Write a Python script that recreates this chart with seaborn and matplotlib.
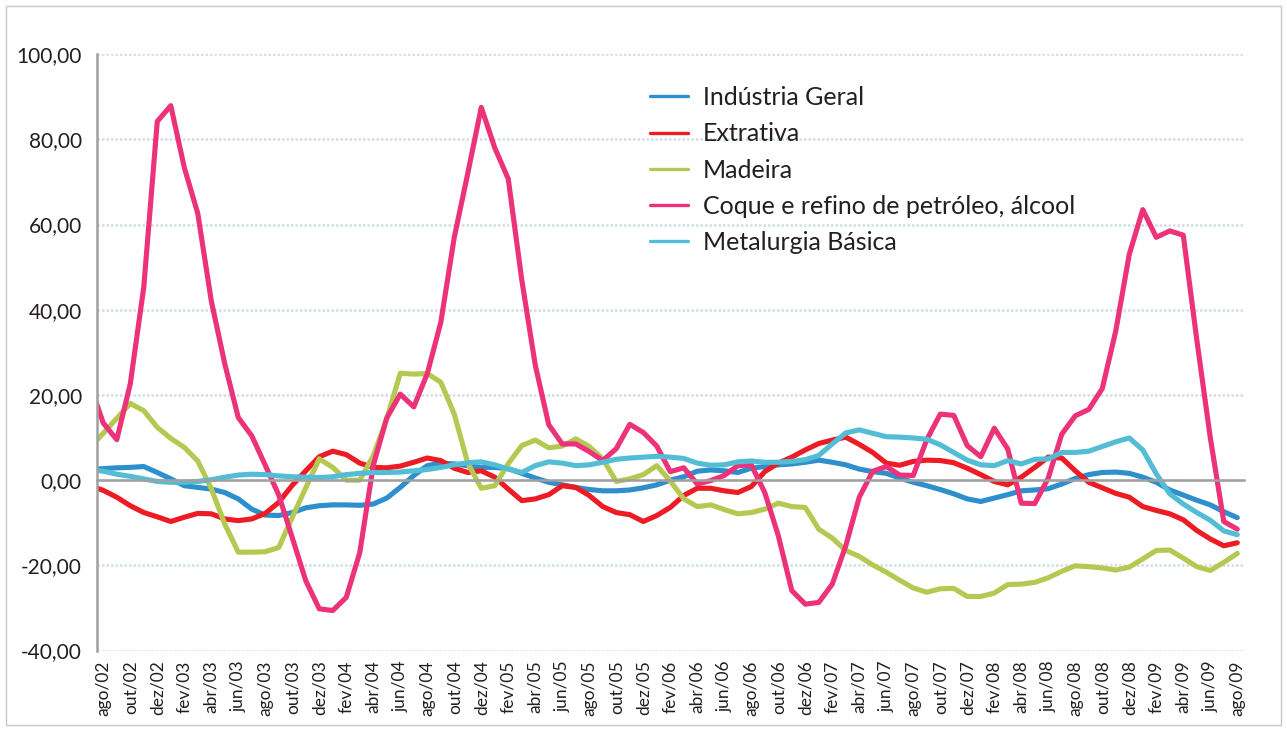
import matplotlib
matplotlib.use("Agg")
import matplotlib.pyplot as plt
from matplotlib.lines import Line2D
from matplotlib.patches import Rectangle
import numpy as np
import pandas as pd
import seaborn as sns

sns.set_style("white")
plt.rcParams["font.family"] = ["Lato", "DejaVu Sans"]

# monthly series, jul/02 .. ago/09 (jul/02 sits just left of the axis and is clipped)
industria_geral = [2.5, 2.7, 2.9, 3.0, 3.2, 1.8, 0.3, -1.3, -1.7, -2.1, -2.9, -4.4, -6.8, -8.2, -8.3,
                   -7.6, -6.5, -6.0, -5.8, -5.8, -5.9, -5.6, -4.2, -1.7, 1.1, 3.4, 4.0, 3.8, 3.4, 3.0,
                   3.0, 2.7, 1.6, 0.5, -0.5, -1.1, -1.7, -2.2, -2.5, -2.5, -2.3, -1.8, -1.1, 0.0, 0.8,
                   2.1, 2.4, 2.2, 1.8, 2.8, 3.2, 3.6, 3.8, 4.2, 4.7, 4.2, 3.6, 2.6, 2.0, 1.6, 0.5,
                   -0.5, -1.3, -2.2, -3.2, -4.4, -5.0, -4.2, -3.4, -2.5, -2.3, -2.0, -0.9, 0.4, 1.3,
                   1.8, 1.9, 1.6, 0.7, -0.5, -2.3, -3.5, -4.7, -5.8, -7.4, -8.8]
extrativa = [-1.3, -2.4, -4.0, -6.0, -7.6, -8.6, -9.7, -8.7, -7.8, -7.9, -9.1, -9.5, -9.1, -7.8, -5.2,
             -1.2, 2.2, 5.5, 6.8, 6.0, 4.0, 3.0, 2.9, 3.3, 4.2, 5.2, 4.6, 2.8, 1.8, 2.2, 0.7,
             -2.1, -4.8, -4.4, -3.4, -1.3, -1.7, -3.6, -6.2, -7.6, -8.1, -9.7, -8.3, -6.4, -3.6,
             -1.9, -1.9, -2.5, -2.9, -1.5, 2.0, 4.0, 5.4, 7.1, 8.6, 9.4, 10.1, 8.4, 6.5, 4.0, 3.5,
             4.4, 4.7, 4.6, 4.1, 2.8, 1.3, -0.3, -1.1, 0.7, 3.0, 5.4, 5.2, 2.2, -0.5, -1.8, -3.1,
             -4.0, -6.2, -7.1, -7.9, -9.3, -11.8, -13.8, -15.4, -14.7]
madeira = [7.6, 11.0, 14.5, 18.0, 16.3, 12.4, 9.8, 7.7, 4.5, -2.0, -10.3, -16.9, -16.9, -16.8, -15.8,
           -8.7, -1.8, 5.0, 3.0, 0.0, 0.0, 5.7, 14.4, 25.1, 24.9, 25.0, 23.0, 15.5, 4.0, -1.9, -1.3,
           3.9, 8.1, 9.4, 7.6, 8.0, 9.7, 7.9, 5.0, -0.3, 0.3, 1.3, 3.4, -0.2, -4.4, -6.2, -5.8,
           -6.9, -7.9, -7.6, -6.8, -5.4, -6.2, -6.4, -11.5, -13.6, -16.5, -17.9, -19.9, -21.6,
           -23.5, -25.3, -26.3, -25.5, -25.4, -27.3, -27.3, -26.5, -24.5, -24.4, -24.0, -22.9,
           -21.4, -20.1, -20.3, -20.6, -21.1, -20.4, -18.5, -16.5, -16.4, -18.3, -20.3, -21.2,
           -19.3, -17.2]
coque_refino = [22.6, 13.4, 9.5, 22.6, 45.3, 84.2, 87.9, 73.4, 62.6, 42.1, 27.3, 14.7, 10.4, 3.5, -3.5,
                -13.5, -23.6, -30.2, -30.6, -27.5, -17.0, 3.5, 14.6, 20.2, 17.2, 25.0, 37.0, 57.0,
                72.0, 87.5, 78.0, 70.7, 47.0, 27.0, 13.0, 8.5, 8.5, 6.7, 4.6, 7.4, 13.1, 11.2, 8.0,
                2.0, 2.9, -0.9, -0.1, 1.1, 3.4, 3.6, -2.9, -13.0, -25.9, -29.1, -28.7, -24.4, -15.4,
                -4.0, 2.1, 3.2, 1.2, 1.1, 9.5, 15.5, 15.2, 8.1, 5.5, 12.2, 7.3, -5.4, -5.5, 0.5,
                10.8, 15.1, 16.6, 21.5, 35.0, 53.0, 63.5, 57.0, 58.5, 57.5, 33.0, 10.0, -9.7, -11.5]
metalurgia = [2.5, 2.1, 1.4, 0.9, 0.3, -0.3, -0.5, -0.5, -0.3, 0.1, 0.7, 1.2, 1.4, 1.3, 1.0, 0.8,
              0.7, 0.6, 0.8, 1.3, 1.6, 1.8, 1.8, 1.9, 2.2, 2.5, 3.0, 3.6, 4.1, 4.3, 3.6, 2.6, 1.8,
              3.4, 4.3, 4.0, 3.4, 3.6, 4.2, 4.9, 5.2, 5.4, 5.6, 5.4, 5.1, 4.0, 3.5, 3.6, 4.3, 4.5,
              4.2, 4.2, 4.4, 4.8, 5.8, 8.5, 11.1, 11.8, 11.0, 10.2, 10.1, 9.9, 9.6, 8.3, 6.5, 4.7,
              3.6, 3.4, 4.6, 3.8, 4.9, 5.0, 6.5, 6.5, 6.8, 7.9, 9.0, 9.9, 7.1, 1.5, -3.2, -5.6,
              -7.6, -9.4, -11.9, -12.8]

series = ["Indústria Geral", "Extrativa", "Madeira",
          "Coque e refino de petróleo, álcool", "Metalurgia Básica"]
cores = ["#2E8FCC", "#ED1C24", "#B5C952", "#EC3278", "#52BDD5"]

tick_labels = ["ago/02", "out/02", "dez/02", "fev/03", "abr/03", "jun/03", "ago/03", "out/03",
               "dez/03", "fev/04", "abr/04", "jun/04", "ago/04", "out/04", "dez/04", "fev/05",
               "abr/05", "jun/05", "ago/05", "out/05", "dez/05", "fev/06", "abr/06", "jun/06",
               "ago/06", "out/06", "dez/06", "fev/07", "abr/07", "jun/07", "ago/07", "out/07",
               "dez/07", "fev/08", "abr/08", "jun/08", "ago/08", "out/08", "dez/08", "fev/09",
               "abr/09", "jun/09", "ago/09"]

valores = [industria_geral, extrativa, madeira, coque_refino, metalurgia]
mes = np.arange(len(industria_geral)) - 1  # 0 = ago/02
df = pd.concat([pd.DataFrame({"mes": mes, "valor": v, "serie": s}) for s, v in zip(series, valores)])

fig = plt.figure(figsize=(12.87, 7.31), dpi=100)
ax = fig.add_axes([0.075, 0.110, 0.8916, 0.816])

sns.lineplot(data=df, x="mes", y="valor", hue="serie", hue_order=series, palette=cores,
             linewidth=3.7, legend=False, ax=ax, sort=False,
             solid_joinstyle="round", solid_capstyle="round")

ax.set_xlim(-0.5, len(mes) - 1.5)
ax.set_ylim(-40, 100)
ax.set_xlabel("")
ax.set_ylabel("")

# y axis
yt = np.arange(-40, 101, 20)
ax.set_yticks(yt)
ax.set_yticklabels([f"{v:.2f}".replace(".", ",") for v in yt], fontsize=15, color="#231f20")
ax.tick_params(axis="y", direction="out", length=4.5, width=1.5, color="#a0a0a0", pad=6)
ax.yaxis.grid(True, color="#cfe0e4", linestyle=(0, (1, 0.8)), linewidth=1.8)
ax.set_axisbelow(True)

for s in ["top", "right"]:
    ax.spines[s].set_visible(False)
ax.spines["left"].set_color("#a0a0a0")
ax.spines["left"].set_linewidth(1.8)

# zero line with category ticks
ax.spines["bottom"].set_position(("data", 0))
ax.spines["bottom"].set_color("#a0a0a0")
ax.spines["bottom"].set_linewidth(1.8)
ax.set_xticks(np.arange(-0.5, len(mes) - 1.5, 2))
ax.tick_params(axis="x", direction="out", length=3.5, width=1.5, color="#a0a0a0", labelbottom=False)

# month labels under the plot
sec = ax.secondary_xaxis(0)
sec.set_xticks(np.arange(0, len(tick_labels) * 2, 2))
sec.set_xticklabels(tick_labels, rotation=90, fontsize=12.5, color="#231f20")
sec.tick_params(length=0, pad=7)
sec.spines["bottom"].set_visible(False)

handles = [Line2D([], [], color=c, lw=2.4) for c in cores]
fig.legend(handles, series, loc="upper left", bbox_to_anchor=(650 / 1287, 1 - 86 / 731),
           frameon=False, fontsize=18, handlelength=1.52, handletextpad=0.6,
           labelspacing=0.53, borderpad=0, borderaxespad=0, labelcolor="#231f20")

fig.patches.append(Rectangle((6 / 1287, 6 / 731), 1275 / 1287, 719 / 731, transform=fig.transFigure,
                             fill=False, edgecolor="#c8c8c8", linewidth=1))

fig.savefig("out.png", dpi=100)
